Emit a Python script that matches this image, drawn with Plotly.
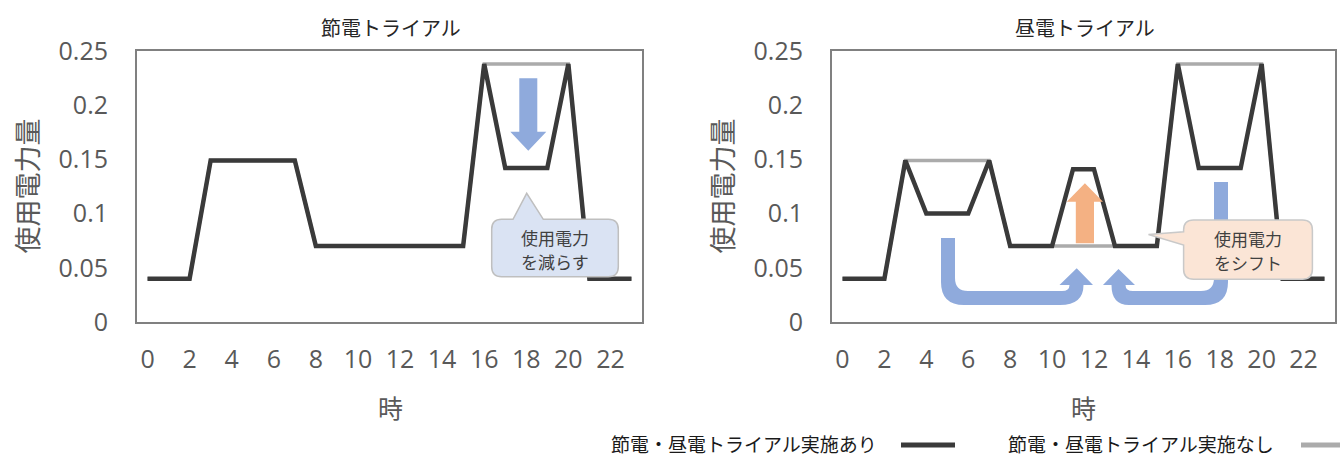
import plotly.graph_objects as go

# ---------------- data ----------------
hours = list(range(24))
x_tick_vals = [0, 2, 4, 6, 8, 10, 12, 14, 16, 18, 20, 22]
y_tick_vals = [0, 0.05, 0.1, 0.15, 0.2, 0.25]
y_tick_text = ["0", "0.05", "0.1", "0.15", "0.2", "0.25"]

# usage without trial (baseline)
baseline = [0.04, 0.04, 0.04, 0.149, 0.149, 0.149, 0.149, 0.149,
            0.07, 0.07, 0.07, 0.07, 0.07, 0.07, 0.07, 0.07,
            0.238, 0.238, 0.238, 0.238, 0.238, 0.04, 0.04, 0.04]
# 節電トライアル (with trial)
setsuden = [0.04, 0.04, 0.04, 0.149, 0.149, 0.149, 0.149, 0.149,
            0.07, 0.07, 0.07, 0.07, 0.07, 0.07, 0.07, 0.07,
            0.238, 0.142, 0.142, 0.142, 0.238, 0.04, 0.04, 0.04]
# 昼電トライアル (with trial)
chuden = [0.04, 0.04, 0.04, 0.149, 0.1, 0.1, 0.1, 0.149,
          0.07, 0.07, 0.07, 0.141, 0.141, 0.07, 0.07, 0.07,
          0.238, 0.142, 0.142, 0.142, 0.238, 0.04, 0.04, 0.04]

titles = ["節電トライアル", "昼電トライアル"]
y_title = "使用電力量"
x_title = "時"
legend_names = ["節電・昼電トライアル実施あり", "節電・昼電トライアル実施なし"]
callout_left = ["使用電力", "を減らす"]
callout_right = ["使用電力", "をシフト"]

# ---------------- style ----------------
W, H = 1340, 457
DARK = "#3a3a3a"
GRAY = "#ababab"
AXIS_GRAY = "#808080"
TICK_COLOR = "#595959"
CJK = "Noto Sans CJK JP"
NUM_FONT = "Open Sans"
BLUE = "#8faadc"
ORANGE = "#f4b183"


def px(x):
    return x / W


def py(y):
    return 1 - y / H


def P(x, y):
    return f"{px(x):.5f},{py(y):.5f}"


def path(cmds):
    out = []
    for c in cmds:
        op = c[0]
        pts = c[1:]
        out.append(op + " ".join(P(*p) for p in pts))
    return " ".join(out) + " Z"


left_dom = [px(137), px(642)]
right_dom = [px(832), px(1335)]
y_dom = [py(322), py(51)]

fig = go.Figure()
for xa, ya, trial in (("x", "y", setsuden), ("x2", "y2", chuden)):
    fig.add_trace(go.Scatter(x=hours, y=baseline, xaxis=xa, yaxis=ya, mode="lines",
                             line=dict(color=GRAY, width=3.5), showlegend=False,
                             name=legend_names[1], hoverinfo="skip"))
    fig.add_trace(go.Scatter(x=hours, y=trial, xaxis=xa, yaxis=ya, mode="lines",
                             line=dict(color=DARK, width=4.5), showlegend=False,
                             name=legend_names[0], hoverinfo="skip"))

xaxis_common = dict(range=[-0.5, 23.5], tickmode="array", tickvals=x_tick_vals,
                    showline=True, mirror=True, linecolor=AXIS_GRAY, linewidth=2,
                    showgrid=False, zeroline=False, ticks="", automargin=False,
                    tickfont=dict(family=NUM_FONT, size=25, color=TICK_COLOR),
                    ticklabelstandoff=14, fixedrange=True)
yaxis_common = dict(range=[0, 0.25], tickmode="array", tickvals=y_tick_vals,
                    ticktext=y_tick_text, domain=y_dom, automargin=False,
                    showline=True, mirror=True, linecolor=AXIS_GRAY, linewidth=2,
                    showgrid=False, zeroline=False, ticks="",
                    tickfont=dict(family=NUM_FONT, size=25, color=TICK_COLOR),
                    ticklabelstandoff=22, fixedrange=True)

fig.update_layout(
    width=W, height=H, margin=dict(l=0, r=0, t=0, b=0, pad=0, autoexpand=False),
    paper_bgcolor="white", plot_bgcolor="white", showlegend=False,
    xaxis=dict(domain=left_dom, anchor="y", **xaxis_common),
    yaxis=dict(anchor="x", **yaxis_common),
    xaxis2=dict(domain=right_dom, anchor="y2", **xaxis_common),
    yaxis2=dict(anchor="x2", **yaxis_common),
)

shapes = []
# down arrow (left)
shapes.append(dict(type="path", xref="paper", yref="paper", layer="above",
                   fillcolor=BLUE, line=dict(width=0),
                   path=path([("M", (519.3, 78.3)), ("L", (537.3, 78.3)), ("L", (537.3, 131.7)),
                              ("L", (546.3, 131.7)), ("L", (528.3, 150.7)), ("L", (510.3, 131.7)),
                              ("L", (519.3, 131.7))])))
# up arrow (right, orange)
shapes.append(dict(type="path", xref="paper", yref="paper", layer="above",
                   fillcolor=ORANGE, line=dict(width=0),
                   path=path([("M", (1075.8, 243.3)), ("L", (1075.8, 201.7)), ("L", (1066.8, 201.7)),
                              ("L", (1084.9, 183.3)), ("L", (1103.0, 201.7)), ("L", (1094.0, 201.7)),
                              ("L", (1094.0, 243.3))])))
# U-turn arrow from morning
shapes.append(dict(type="path", xref="paper", yref="paper", layer="above",
                   fillcolor=BLUE, line=dict(width=0),
                   path=path([("M", (941, 238)), ("L", (941, 282)), ("Q", (941, 305), (964, 305)),
                              ("L", (1060, 305)), ("Q", (1083.5, 305), (1083.5, 285)),
                              ("L", (1093, 285)), ("L", (1076.7, 268.3)), ("L", (1059.5, 285)),
                              ("L", (1069.5, 285)), ("Q", (1069.5, 291), (1062, 291)),
                              ("L", (968, 291)), ("Q", (955, 291), (955, 278)), ("L", (955, 238))])))
# U-turn arrow from evening
shapes.append(dict(type="path", xref="paper", yref="paper", layer="above",
                   fillcolor=BLUE, line=dict(width=0),
                   path=path([("M", (1214, 182)), ("L", (1228, 182)), ("L", (1228, 282)),
                              ("Q", (1228, 305), (1205, 305)), ("L", (1129, 305)),
                              ("Q", (1111.5, 305), (1111.5, 285)), ("L", (1103, 285)),
                              ("L", (1118.5, 269)), ("L", (1135, 285)), ("L", (1125.5, 285)),
                              ("Q", (1125.5, 291), (1133, 291)), ("L", (1201, 291)),
                              ("Q", (1214, 291), (1214, 278))])))
# callout left
shapes.append(dict(type="path", xref="paper", yref="paper", layer="above",
                   fillcolor="#dae3f3", line=dict(color="#bfbfbf", width=1.5),
                   path=path([("M", (501.7, 219.3)), ("L", (513, 219.3)), ("L", (526.7, 193.3)),
                              ("L", (543.3, 219.3)), ("L", (608.3, 219.3)),
                              ("Q", (618.3, 219.3), (618.3, 229.3)), ("L", (618.3, 266.7)),
                              ("Q", (618.3, 276.7), (608.3, 276.7)), ("L", (501.7, 276.7)),
                              ("Q", (491.7, 276.7), (491.7, 266.7)), ("L", (491.7, 229.3)),
                              ("Q", (491.7, 219.3), (501.7, 219.3))])))
# callout right
shapes.append(dict(type="path", xref="paper", yref="paper", layer="above",
                   fillcolor="#fbe5d6", line=dict(color="#c9c9c9", width=1.5),
                   path=path([("M", (1193.6, 220)), ("L", (1302.4, 220)),
                              ("Q", (1312.4, 220), (1312.4, 230)), ("L", (1312.4, 269.3)),
                              ("Q", (1312.4, 279.3), (1302.4, 279.3)), ("L", (1193.6, 279.3)),
                              ("Q", (1183.6, 279.3), (1183.6, 269.3)), ("L", (1183.6, 245)),
                              ("L", (1148.5, 234.5)), ("L", (1183.6, 231.7)), ("L", (1183.6, 230)),
                              ("Q", (1183.6, 220), (1193.6, 220))])))
# legend samples
shapes.append(dict(type="line", xref="paper", yref="paper", layer="above",
                   x0=px(901), x1=px(955), y0=py(445), y1=py(445),
                   line=dict(color=DARK, width=5)))
shapes.append(dict(type="line", xref="paper", yref="paper", layer="above",
                   x0=px(1301), x1=px(1345), y0=py(445), y1=py(445),
                   line=dict(color=GRAY, width=5)))
fig.update_layout(shapes=shapes)

ann = []


def text(t, x, y, size, color, anchor="center", angle=0):
    ann.append(dict(text=t, x=px(x), y=py(y), xref="paper", yref="paper", showarrow=False,
                    xanchor=anchor, yanchor="middle", textangle=angle,
                    font=dict(family=CJK, size=size, color=color)))


text(titles[0], 391, 27, 20, "#262626")
text(titles[1], 1085, 27, 20, "#262626")
text(y_title, 26, 186.5, 27, TICK_COLOR, angle=-90)
text(y_title, 721, 186.5, 27, TICK_COLOR, angle=-90)
text(x_title, 390, 407, 25, TICK_COLOR)
text(x_title, 1083, 407, 25, TICK_COLOR)
text(callout_left[0], 555, 237.5, 17, "#404040")
text(callout_left[1], 555, 261.5, 17, "#404040")
text(callout_right[0], 1248, 238, 17, "#404040")
text(callout_right[1], 1248, 262, 17, "#404040")
text(legend_names[0], 609, 443, 19, "#1a1a1a", anchor="left")
text(legend_names[1], 1006, 443, 19, "#1a1a1a", anchor="left")
fig.update_layout(annotations=ann)

fig.write_html("out.html")
